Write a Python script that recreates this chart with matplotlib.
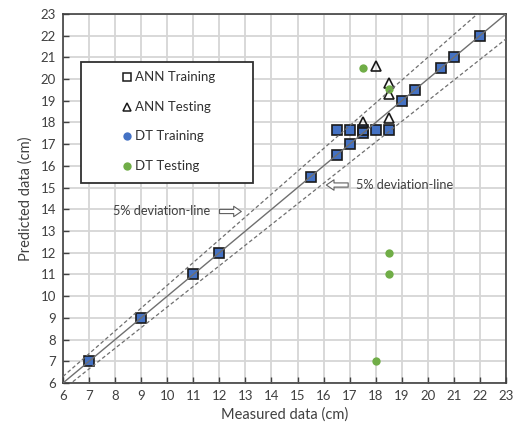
import matplotlib.pyplot as plt
import numpy as np
from matplotlib.patches import Rectangle
from matplotlib.lines import Line2D

# Training set: measured vs predicted (ANN and DT give the same training values)
train_measured = [7, 9, 11, 12, 15.5, 16.5, 17, 17.5, 16.5, 17, 17.5, 18, 18.5, 19, 19.5, 20.5, 21, 22]
ann_train_pred = [7, 9, 11, 12, 15.5, 16.5, 17, 17.5, 17.65, 17.65, 17.65, 17.65, 17.65, 19, 19.5, 20.5, 21, 22]
dt_train_pred = list(ann_train_pred)

# Testing set
ann_test_measured = [18, 18.5, 18.5, 17.5, 18.5]
ann_test_pred = [20.6, 19.8, 19.3, 18.0, 18.2]
dt_test_measured = [17.5, 18.5, 18.5, 18.5, 18]
dt_test_pred = [20.5, 19.55, 12, 11, 7]

deviation = 0.05
axis_min, axis_max = 6, 23

plt.rcParams['font.family'] = ['Lato', 'DejaVu Sans']

fig = plt.figure(figsize=(5.14, 4.36), dpi=100)
ax = fig.add_axes([0.1226, 0.1216, 0.8618, 0.8464])

ax.set_xlim(axis_min, axis_max)
ax.set_ylim(axis_min, axis_max)
ticks = np.arange(axis_min, axis_max + 1)
ax.set_xticks(ticks)
ax.set_yticks(ticks)
ax.grid(True, color='#d6d6d6', linewidth=1.3, zorder=0)
ax.set_axisbelow(True)
ax.tick_params(direction='in', length=4, width=1, color='#404040', labelsize=9.5,
               labelcolor='#404040', pad=5)
for s in ax.spines.values():
    s.set_color('#404040')
    s.set_linewidth(1.2)

# markers
ax.plot(train_measured, dt_train_pred, 's', color='#4472c4', markersize=7.6,
        markeredgewidth=0, zorder=3)
ax.plot(train_measured, ann_train_pred, 's', mfc='none', mec='#1a1a1a', markersize=7.6,
        markeredgewidth=1.2, zorder=4)
ax.plot(ann_test_measured, ann_test_pred, '^', mfc='none', mec='#1a1a1a', markersize=7.5,
        markeredgewidth=1.2, zorder=4)
ax.plot(dt_test_measured, dt_test_pred, 'o', color='#70ad47', markersize=6,
        markeredgewidth=0, zorder=4.5)

# 1:1 line and +-5% lines
xs = np.array([axis_min, axis_max])
ax.plot(xs, xs, color='#6f6f6f', linewidth=1.0, zorder=5)
ax.plot(xs, xs * (1 + deviation), color='#6f6f6f', linewidth=0.9, linestyle=(0, (3, 2)), zorder=5)
ax.plot(xs, xs * (1 - deviation), color='#6f6f6f', linewidth=0.9, linestyle=(0, (3, 2)), zorder=5)

arrow_style = dict(arrowstyle='simple,head_length=0.55,head_width=0.75,tail_width=0.3',
                   fc='white', ec='#606060', lw=0.8)
ax.annotate('', xy=(12.95, 13.9), xytext=(11.9, 13.9), arrowprops=arrow_style, zorder=6)
ax.text(11.65, 13.9, '5% deviation-line', ha='right', va='center', fontsize=9.2,
        color='#404040', zorder=6)
ax.annotate('', xy=(16.0, 15.12), xytext=(17.05, 15.12), arrowprops=arrow_style, zorder=6)
ax.text(17.25, 15.12, '5% deviation-line', ha='left', va='center', fontsize=9.2,
        color='#404040', zorder=6)

# legend box
ax.add_patch(Rectangle((0.041, 0.543), 0.388, 0.328, transform=ax.transAxes,
                       facecolor='white', edgecolor='#303030', linewidth=1.3, zorder=7))
legend_items = [
    ('ANN Training', dict(marker='s', mfc='none', mec='#1a1a1a', markersize=5.5, mew=1.1)),
    ('ANN Testing', dict(marker='^', mfc='none', mec='#1a1a1a', markersize=5.5, mew=1.1)),
    ('DT Training', dict(marker='o', color='#4472c4', markersize=6, mew=0)),
    ('DT Testing', dict(marker='o', color='#70ad47', markersize=6, mew=0)),
]
legend_y = [0.828, 0.749, 0.668, 0.587]
for (label, style), y in zip(legend_items, legend_y):
    ax.add_line(Line2D([0.144], [y], linestyle='none', transform=ax.transAxes, zorder=8, **style))
    ax.text(0.163, y, label, transform=ax.transAxes, ha='left', va='center',
            fontsize=9.5, color='#303030', zorder=8)

ax.set_xlabel('Measured data (cm)', fontsize=10.5, color='#404040', labelpad=4)
ax.set_ylabel('Predicted data (cm)', fontsize=10.5, color='#404040', labelpad=6)

fig.savefig('out.png', dpi=100)
